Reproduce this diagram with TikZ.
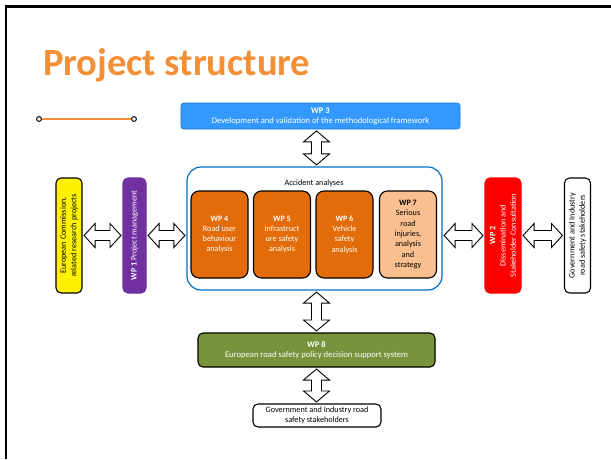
\documentclass[tikz,border=0pt]{standalone}
\usepackage{fontspec}
\setmainfont{Carlito}
\usetikzlibrary{calc}

\definecolor{titleorange}{RGB}{243,143,55}
\definecolor{wpblue}{RGB}{51,153,255}
\definecolor{wpblueline}{RGB}{35,115,205}
\definecolor{accblue}{RGB}{0,112,192}
\definecolor{wporange}{RGB}{227,108,10}
\definecolor{wppeach}{RGB}{250,191,143}
\definecolor{wppurple}{RGB}{112,48,160}
\definecolor{wpgreen}{RGB}{119,147,60}

\tikzset{
  smallfont/.style={font=\fontsize{8.2}{10.3}\selectfont},
  widefont/.style={font=\fontsize{8.6}{10}\selectfont},
  box/.style={rectangle,rounded corners=5pt,draw=black,line width=1.1pt,
    align=center,smallfont,inner sep=2pt},
  wpbox/.style={box,fill=wporange,text=white,minimum width=57pt,
    minimum height=87pt,rounded corners=8pt},
  sidebox/.style={box,minimum width=26pt,minimum height=115pt},
  sidetext/.style={rotate=90,align=center,smallfont},
  blockarr/.style={draw=black,fill=white,line width=0.9pt,line join=miter},
}

% block arrow with two heads, #1 above #2
\newcommand{\vblock}[2]{%
  \path[blockarr] let \p1=(#1), \p2=(#2) in
    (\x1,\y1-1.5pt) -- (\x1+13pt,\y1-12.5pt) -- (\x1+5pt,\y1-12.5pt)
    -- (\x1+5pt,\y2+12.5pt) -- (\x1+13pt,\y2+12.5pt) -- (\x1,\y2+1.5pt)
    -- (\x1-13pt,\y2+12.5pt) -- (\x1-5pt,\y2+12.5pt) -- (\x1-5pt,\y1-12.5pt)
    -- (\x1-13pt,\y1-12.5pt) -- cycle;}
% block arrow with two heads, #1 left of #2
\newcommand{\hblock}[2]{%
  \path[blockarr] let \p1=(#1), \p2=(#2) in
    (\x1+1.5pt,\y1) -- (\x1+12.5pt,\y1+12pt) -- (\x1+12.5pt,\y1+5pt)
    -- (\x2-12.5pt,\y1+5pt) -- (\x2-12.5pt,\y1+12pt) -- (\x2-1.5pt,\y1)
    -- (\x2-12.5pt,\y1-12pt) -- (\x2-12.5pt,\y1-5pt) -- (\x1+12.5pt,\y1-5pt)
    -- (\x1+12.5pt,\y1-12pt) -- cycle;}

\begin{document}
\begin{tikzpicture}[x=1pt,y=-1pt]
\useasboundingbox (0,0) rectangle (611,459);
\draw[line width=2.6pt] (6,459) -- (6,6.5) -- (611,6.5);

% title
\node[anchor=base west,inner sep=0,text=titleorange,
  font=\fontsize{38.5}{40}\selectfont\bfseries] (title) at (43,75) {Project structure};
\coordinate (d1) at (39,119);
\coordinate (d2) at (134,119);
\draw[titleorange,line width=1.4pt] (d1) -- (d2);
\filldraw[fill=white,draw=black,line width=1pt] (d1) circle (2.4) (d2) circle (2.4);

% work packages
\node[box,widefont,fill=wpblue,draw=wpblueline,line width=0.8pt,text=white,rounded corners=3pt,
  minimum width=279pt,minimum height=26pt] (wp3) at (320.5,116)
  {\textbf{WP 3}\\Development and validation of the methodological framework};

\node[box,draw=accblue,line width=1.2pt,rounded corners=14pt,minimum width=255pt,
  minimum height=123pt] (acc) at (314.5,228.5) {};
\node[smallfont] (acclabel) at (314,183) {Accident analyses};

\node[wpbox] (wp4) at (219.5,234.5) {\textbf{WP 4}\\Road user\\behaviour\\analysis};
\node[wpbox] (wp5) at (282,234.5) {\textbf{WP 5}\\Infrastruct\\ure safety\\analysis};
\node[wpbox] (wp6) at (344.5,234.5) {\textbf{WP 6}\\Vehicle\\safety\\analysis};
\node[wpbox,fill=wppeach,text=black] (wp7) at (408,234.5)
  {\textbf{WP 7}\\Serious\\road\\injuries,\\analysis\\and\\strategy};

\node[sidebox,fill=yellow,label={[sidetext]center:European Commission,\\related research projects}]
  (ec) at (69,235.5) {};
\node[sidebox,fill=wppurple,draw=wppurple,minimum width=23pt,
  label={[sidetext,text=white]center:\textbf{WP 1} Project management}] (wp1) at (134.5,235.5) {};
\node[sidebox,fill=red,draw=red,minimum width=36pt,
  label={[sidetext,text=white]center:\textbf{WP 2}\\Dissemination and\\Stakeholder Consultation}]
  (wp2) at (503,235.5) {};
\node[sidebox,fill=white,
  label={[sidetext]center:Government and Industry\\road safety stakeholders}] (gov) at (577.5,235.5) {};

\node[box,widefont,fill=wpgreen,text=white,minimum width=237pt,minimum height=34pt] (wp8) at (316.5,350)
  {\textbf{WP 8}\\European road safety policy decision support system};
\node[box,fill=white,minimum width=128pt,minimum height=23pt] (stake) at (317,415.5)
  {Government and Industry road\\safety stakeholders};

% arrows
\vblock{wp3.south -| wp8.north}{acc.north -| wp8.north}
\vblock{acc.south -| wp8.north}{wp8.north}
\vblock{wp8.south}{stake.north}
\hblock{ec.east}{wp1.west}
\hblock{wp1.east}{wp1.east -| acc.west}
\hblock{wp2.west -| acc.east}{wp2.west}
\hblock{wp2.east}{gov.west}
\end{tikzpicture}
\end{document}
